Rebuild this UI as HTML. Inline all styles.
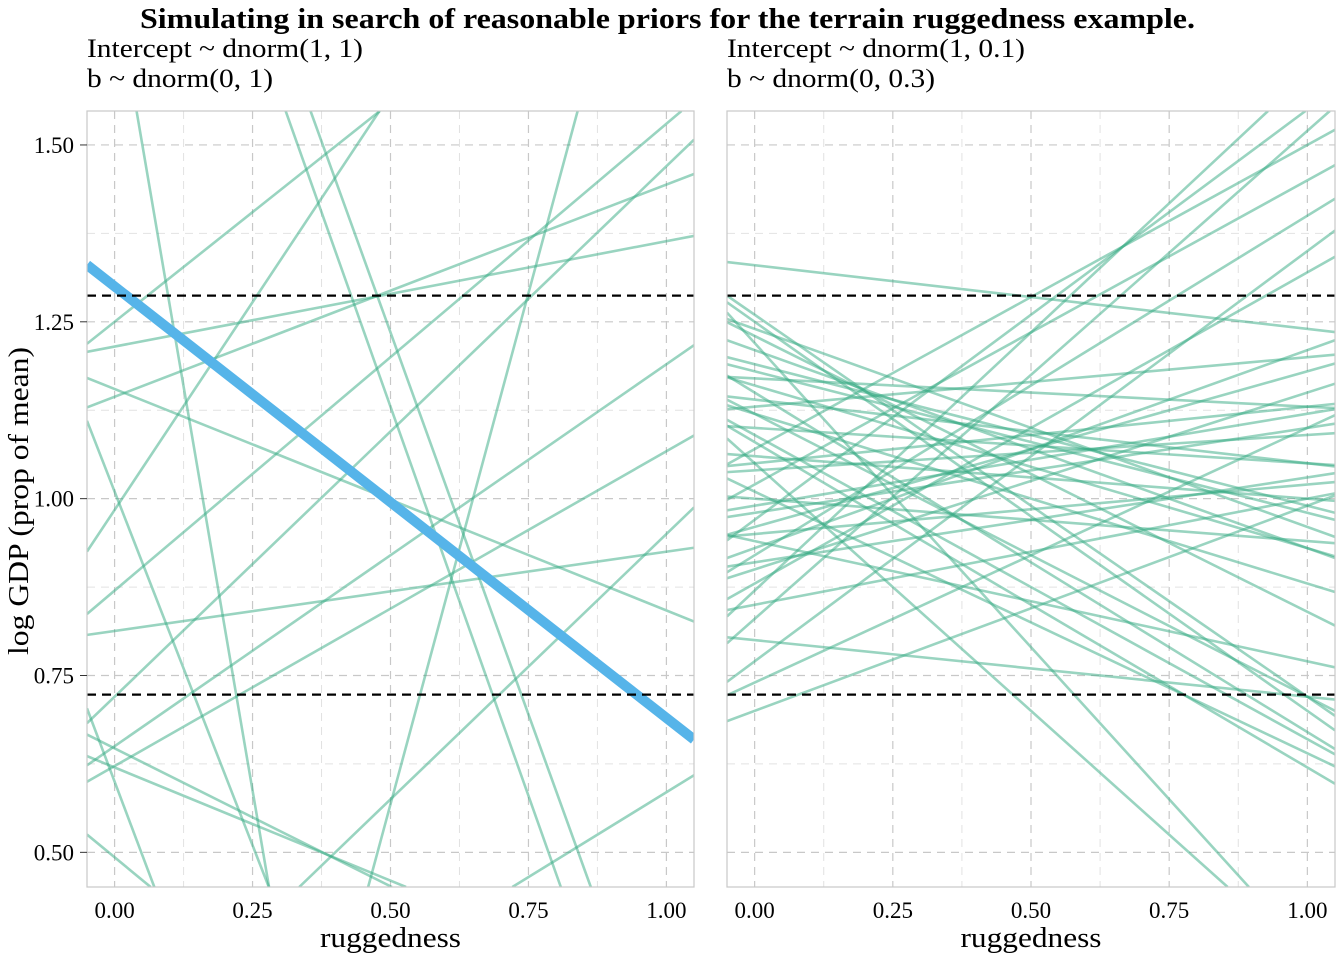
<!DOCTYPE html>
<html><head><meta charset="utf-8"><style>
html,body{margin:0;padding:0;background:#fff;overflow:hidden;width:1344px;height:960px;}
svg{display:block;}
svg text{font-family:"Liberation Serif",serif;fill:#000;}
</style></head><body>
<svg id="chart" width="1344" height="960" xmlns="http://www.w3.org/2000/svg">
<text x="140" y="28" font-size="28" font-weight="bold" textLength="1055" lengthAdjust="spacingAndGlyphs">Simulating in search of reasonable priors for the terrain ruggedness example.</text>
<text x="87" y="57" font-size="26" textLength="276" lengthAdjust="spacingAndGlyphs">Intercept ~ dnorm(1, 1)</text>
<text x="87" y="87" font-size="26" textLength="186" lengthAdjust="spacingAndGlyphs">b ~ dnorm(0, 1)</text>
<text x="727" y="57" font-size="26" textLength="298" lengthAdjust="spacingAndGlyphs">Intercept ~ dnorm(1, 0.1)</text>
<text x="727" y="87" font-size="26" textLength="208" lengthAdjust="spacingAndGlyphs">b ~ dnorm(0, 0.3)</text>
<text transform="translate(28,501) rotate(-90)" text-anchor="middle" font-size="28" textLength="308" lengthAdjust="spacingAndGlyphs">log GDP (prop of mean)</text>
<g id="panels"></g>
</svg>
<script>
const xTicks=[0,0.25,0.5,0.75,1];
const xTickLabels=["0.00","0.25","0.50","0.75","1.00"];
const yTicks=[0.5,0.75,1,1.25,1.5];
const yTickLabels=["0.50","0.75","1.00","1.25","1.50"];
const refLines=[1.287,0.723];
const leftStart=[1.25,1.215,1.144,1.155,1.01,0.984,1.73,2.23,2.315,-0.877,0.813,0.622,0.65,0.72,0.6,0.647,0.493,0.62,0.105,0.87,0.2];
const leftEnd=[1.87,1.364,1.444,0.842,-0.99,2.159,-2.84,0.03,0.155,2.013,0.925,1.067,1.19,1.47,-1.47,0.257,-0.15,0.30,0.585,1.53,0.95];
const blueStart=[1.30];
const blueEnd=[0.69];
const rightStart=[1.33,1.26,1.25,1.24,1.22,1.19,1.17,1.16,1.15,1.13,1.12,1.10,1.08,1.07,1.06,1.05,1.04,1.02,1.00,0.99,0.97,0.96,0.95,0.94,0.92,0.91,0.90,0.88,0.87,0.85,0.83,0.80,0.77,0.74,0.70,1.12,1.09,1.01,1.23,1.14,0.98,1.18,1.05,0.93,1.21];
const rightEnd=[1.24,0.72,0.70,0.96,0.36,0.99,1.13,0.93,0.67,1.20,0.88,1.05,0.62,1.50,1.00,0.35,1.09,1.45,0.94,1.12,1.55,1.18,1.02,0.77,1.40,1.03,1.15,1.32,1.60,1.00,1.52,0.72,1.35,1.10,0.99,0.72,0.66,0.64,0.84,1.05,1.10,0.98,1.13,1.21,0.93];
const NS="http://www.w3.org/2000/svg";
const g=document.getElementById('panels');
const top_=111,bot=887,yMin=0.451,yMax=1.548,xMin=-0.05,xMax=1.05;
function mk(t,a){const e=document.createElementNS(NS,t);for(const k in a)e.setAttribute(k,a[k]);return e;}
function seg(a,e){
  const b=e-a;let x0=xMin,x1=xMax;
  if(b!==0){
    let xa=(yMin-a)/b,xb=(yMax-a)/b;
    if(xa>xb){const t=xa;xa=xb;xb=t;}
    x0=Math.max(x0,xa);x1=Math.min(x1,xb);
  }
  if(x1<=x0)return null;
  return [x0,a+b*x0,x1,a+b*x1];
}
function panel(px,w,starts,ends,id,blue){
  const sx=v=>px+(v-xMin)/(xMax-xMin)*w;
  const sy=v=>bot-(v-yMin)/(yMax-yMin)*(bot-top_);
  const clip=mk('clipPath',{id:'c'+id});clip.appendChild(mk('rect',{x:px,y:top_,width:w,height:bot-top_}));g.appendChild(clip);
  const grid=mk('g',{});
  
  
  for(let i=0;i<xTicks.length;i++){
    grid.appendChild(mk('line',{x1:sx(xTicks[i]),x2:sx(xTicks[i]),y1:top_,y2:bot,stroke:'#c8c8c8','stroke-dasharray':'8,6','stroke-width':1.2}));
    if(i<xTicks.length-1){const m=(xTicks[i]+xTicks[i+1])/2;grid.appendChild(mk('line',{x1:sx(m),x2:sx(m),y1:top_,y2:bot,stroke:'#e2e2e2','stroke-dasharray':'8,6'}));}
  }
  for(let i=0;i<yTicks.length;i++){
    grid.appendChild(mk('line',{x1:px,x2:px+w,y1:sy(yTicks[i]),y2:sy(yTicks[i]),stroke:'#c8c8c8','stroke-dasharray':'8,6','stroke-width':1.2}));
    if(i<yTicks.length-1){const m=(yTicks[i]+yTicks[i+1])/2;grid.appendChild(mk('line',{x1:px,x2:px+w,y1:sy(m),y2:sy(m),stroke:'#e2e2e2','stroke-dasharray':'8,6'}));}
  }
  g.appendChild(grid);
  const lines=mk('g',{'clip-path':'url(#c'+id+')'});
  for(let i=0;i<starts.length;i++){
    const s=seg(starts[i],ends[i]);if(!s)continue;
    const l=mk('line',{x1:sx(s[0]),y1:sy(s[1]),x2:sx(s[2]),y2:sy(s[3]),stroke:'rgba(52,170,130,0.5)','stroke-width':2.6});
    
    
    lines.appendChild(l);
  }
  if(blue){
    const s=seg(blueStart[0],blueEnd[0]);
    if(s){
      const b=mk('line',{x1:sx(s[0]),y1:sy(s[1]),x2:sx(s[2]),y2:sy(s[3]),stroke:'#56b4e9','stroke-width':10});
      
      
      lines.appendChild(b);
    }
  }
  for(const r of refLines){
    const d=mk('line',{x1:px,x2:px+w,y1:sy(r),y2:sy(r),stroke:'#000','stroke-width':2.2,'stroke-dasharray':'9,6'});
    
    
    lines.appendChild(d);
  }
  g.appendChild(lines);
  const border=mk('rect',{x:px,y:top_,width:w,height:bot-top_,fill:'none',stroke:'#c8c8c8','stroke-width':1.2});
  
  
  g.appendChild(border);
  for(let i=0;i<xTicks.length;i++){
    const t=mk('text',{x:sx(xTicks[i]),y:918,'text-anchor':'middle','font-size':23});t.textContent=xTickLabels[i];
    
    
    g.appendChild(t);
  }
  const xt=mk('text',{x:px+w/2,y:947,'text-anchor':'middle','font-size':28,textLength:141,lengthAdjust:'spacingAndGlyphs'});xt.textContent='ruggedness';
  
  
  g.appendChild(xt);
  if(blue){
    for(let i=0;i<yTicks.length;i++){
      const t=mk('text',{x:74,y:sy(yTicks[i])+8,'text-anchor':'end','font-size':23});t.textContent=yTickLabels[i];
      
      
      g.appendChild(t);
      g.appendChild(mk('line',{x1:80,x2:87,y1:sy(yTicks[i]),y2:sy(yTicks[i]),stroke:'#333'}));
    }
  }
}
panel(87,607,leftStart,leftEnd,'left-panel',true);
panel(727,608,rightStart,rightEnd,'right-panel',false);
</script>
</body></html>
